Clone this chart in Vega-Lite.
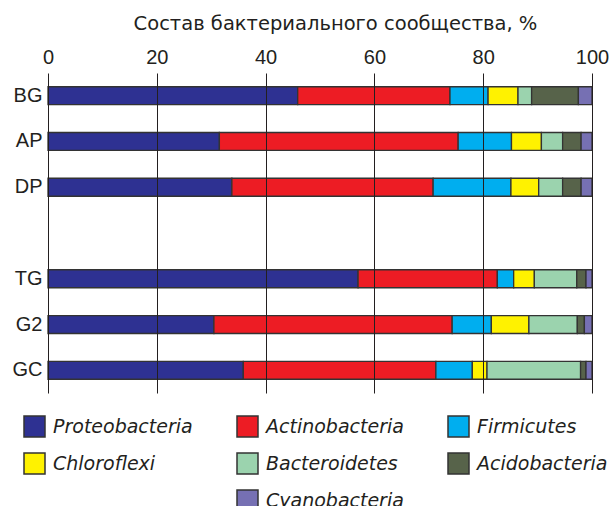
{
  "$schema": "https://vega.github.io/schema/vega-lite/v6.json",
  "width": 544,
  "height": 320,
  "autosize": {"type": "none"},
  "padding": {"left": 48, "top": 73, "right": 21, "bottom": 113},
  "background": "white",
  "config": {"view": {"stroke": null}, "font": "Liberation Sans"},
  "data": {
    "values": [
      {"site": "BG", "phylum": "Proteobacteria", "pct": 45.9},
      {"site": "BG", "phylum": "Actinobacteria", "pct": 28.0},
      {"site": "BG", "phylum": "Firmicutes", "pct": 7.0},
      {"site": "BG", "phylum": "Chloroflexi", "pct": 5.5},
      {"site": "BG", "phylum": "Bacteroidetes", "pct": 2.5},
      {"site": "BG", "phylum": "Acidobacteria", "pct": 8.6},
      {"site": "BG", "phylum": "Cyanobacteria", "pct": 2.5},
      {"site": "AP", "phylum": "Proteobacteria", "pct": 31.5},
      {"site": "AP", "phylum": "Actinobacteria", "pct": 43.9},
      {"site": "AP", "phylum": "Firmicutes", "pct": 9.8},
      {"site": "AP", "phylum": "Chloroflexi", "pct": 5.5},
      {"site": "AP", "phylum": "Bacteroidetes", "pct": 3.9},
      {"site": "AP", "phylum": "Acidobacteria", "pct": 3.4},
      {"site": "AP", "phylum": "Cyanobacteria", "pct": 2.0},
      {"site": "DP", "phylum": "Proteobacteria", "pct": 33.8},
      {"site": "DP", "phylum": "Actinobacteria", "pct": 37.0},
      {"site": "DP", "phylum": "Firmicutes", "pct": 14.3},
      {"site": "DP", "phylum": "Chloroflexi", "pct": 5.1},
      {"site": "DP", "phylum": "Bacteroidetes", "pct": 4.4},
      {"site": "DP", "phylum": "Acidobacteria", "pct": 3.4},
      {"site": "DP", "phylum": "Cyanobacteria", "pct": 2.0},
      {"site": "TG", "phylum": "Proteobacteria", "pct": 57.0},
      {"site": "TG", "phylum": "Actinobacteria", "pct": 25.6},
      {"site": "TG", "phylum": "Firmicutes", "pct": 3.0},
      {"site": "TG", "phylum": "Chloroflexi", "pct": 3.8},
      {"site": "TG", "phylum": "Bacteroidetes", "pct": 7.8},
      {"site": "TG", "phylum": "Acidobacteria", "pct": 1.7},
      {"site": "TG", "phylum": "Cyanobacteria", "pct": 1.1},
      {"site": "G2", "phylum": "Proteobacteria", "pct": 30.5},
      {"site": "G2", "phylum": "Actinobacteria", "pct": 43.8},
      {"site": "G2", "phylum": "Firmicutes", "pct": 7.2},
      {"site": "G2", "phylum": "Chloroflexi", "pct": 6.9},
      {"site": "G2", "phylum": "Bacteroidetes", "pct": 8.9},
      {"site": "G2", "phylum": "Acidobacteria", "pct": 1.3},
      {"site": "G2", "phylum": "Cyanobacteria", "pct": 1.4},
      {"site": "GC", "phylum": "Proteobacteria", "pct": 35.9},
      {"site": "GC", "phylum": "Actinobacteria", "pct": 35.4},
      {"site": "GC", "phylum": "Firmicutes", "pct": 6.7},
      {"site": "GC", "phylum": "Chloroflexi", "pct": 2.7},
      {"site": "GC", "phylum": "Bacteroidetes", "pct": 17.2},
      {"site": "GC", "phylum": "Acidobacteria", "pct": 1.0},
      {"site": "GC", "phylum": "Cyanobacteria", "pct": 1.1}
    ]
  },
  "transform": [
    {"calculate": "indexof(['Proteobacteria','Actinobacteria','Firmicutes','Chloroflexi','Bacteroidetes','Acidobacteria','Cyanobacteria'], datum.phylum)", "as": "ord"}
  ],
  "mark": {"type": "bar", "stroke": "#333333", "strokeWidth": 1.3},
  "encoding": {
    "y": {
      "field": "site",
      "type": "nominal",
      "scale": {"domain": ["BG", "AP", "DP", " ", "TG", "G2", "GC"], "paddingInner": 0.607, "paddingOuter": 0.3},
      "axis": {
        "title": null,
        "domain": false,
        "ticks": false,
        "tickSize": 0,
        "labelPadding": 6,
        "labelFontSize": 20,
        "labelColor": "#231f20",
        "labelFont": "Liberation Sans"
      }
    },
    "x": {
      "field": "pct",
      "type": "quantitative",
      "stack": "zero",
      "scale": {"domain": [0, 100], "nice": false},
      "axis": {
        "orient": "top",
        "values": [0, 20, 40, 60, 80, 100],
        "grid": true,
        "gridColor": "#231f20",
        "gridWidth": 1,
        "gridOpacity": 1,
        "domain": false,
        "ticks": false,
        "tickSize": 0,
        "labelFlush": false,
        "labelPadding": 6,
        "labelFontSize": 20,
        "labelColor": "#231f20",
        "labelFont": "Liberation Sans",
        "title": "Состав бактериального сообщества, %",
        "titleFontSize": 19.5,
        "titleFontWeight": "normal",
        "titleColor": "#231f20",
        "titleFont": "DejaVu Sans",
        "titleX": 287,
        "titlePadding": 14,
        "zindex": 1
      }
    },
    "order": {"field": "ord", "type": "quantitative"},
    "color": {
      "field": "phylum",
      "type": "nominal",
      "scale": {
        "domain": ["Proteobacteria", "Chloroflexi", " ", "Actinobacteria", "Bacteroidetes", "Cyanobacteria", "Firmicutes", "Acidobacteria"],
        "range": ["#2e3192", "#fff200", "#ffffff", "#ed1c24", "#9bd3ae", "#7670b3", "#00aeef", "#57634a"]
      },
      "legend": {
        "title": null,
        "orient": "none",
        "legendX": -25,
        "legendY": 342,
        "columns": 3,
        "columnPadding": 41,
        "rowPadding": 10,
        "symbolType": "square",
        "symbolSize": 441,
        "symbolStrokeColor": "#333333",
        "symbolStrokeWidth": 1.5,
        "symbolOpacity": 1,
        "labelFontSize": 19,
        "labelFontStyle": "italic",
        "labelFont": "DejaVu Sans",
        "labelColor": "#231f20",
        "labelOffset": 7,
        "labelLimit": 300,
        "encode": {
          "symbols": {"update": {"opacity": {"signal": "datum.value === ' ' ? 0 : 1"}}}
        }
      }
    }
  }
}
